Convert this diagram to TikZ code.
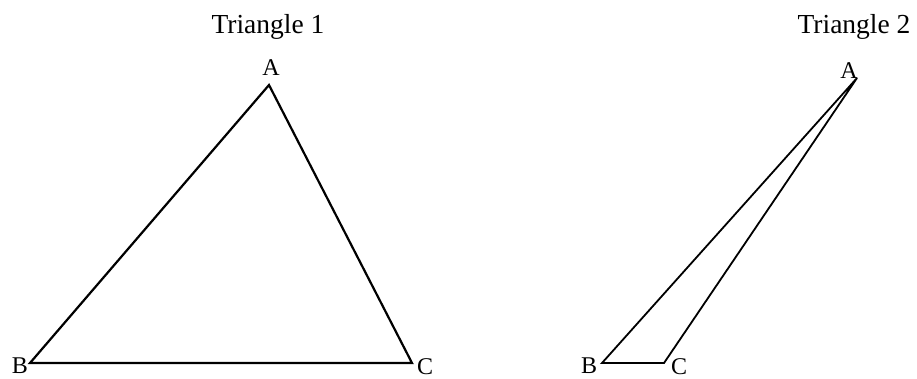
\documentclass[tikz,border=0pt]{standalone}
\usepackage{fontspec}
\setmainfont{Liberation Serif}
\begin{document}
\begin{tikzpicture}[x=1pt,y=-1pt,
  side/.style={line width=2.2pt, line join=miter},
  thinside/.style={line width=1.8pt, line join=miter},
  vlabel/.style={anchor=base, inner sep=0pt, font=\fontsize{24}{26}\selectfont},
  title/.style={anchor=base, inner sep=0pt, font=\fontsize{27.5}{30}\selectfont}]
\useasboundingbox (0,0) rectangle (917,378);
% Triangle 1
\coordinate (A1) at (269,85);
\coordinate (B1) at (30,363);
\coordinate (C1) at (412,363);
\draw[side] (A1) -- (B1) -- (C1) -- cycle;
\node[title] (t1) at (268,33) {Triangle 1};
\node[vlabel] (la1) at (271,75) {A};
\node[vlabel] (lb1) at (20,373) {B};
\node[vlabel] (lc1) at (425,374) {C};
% Triangle 2
\coordinate (A2) at (857,78);
\coordinate (B2) at (602,363);
\coordinate (C2) at (664,363);
\draw[thinside] (A2) -- (B2) -- (C2) -- cycle;
\node[title] (t2) at (854,33) {Triangle 2};
\node[vlabel] (la2) at (849,78) {A};
\node[vlabel] (lb2) at (589,373) {B};
\node[vlabel] (lc2) at (679,374) {C};
\end{tikzpicture}
\end{document}
